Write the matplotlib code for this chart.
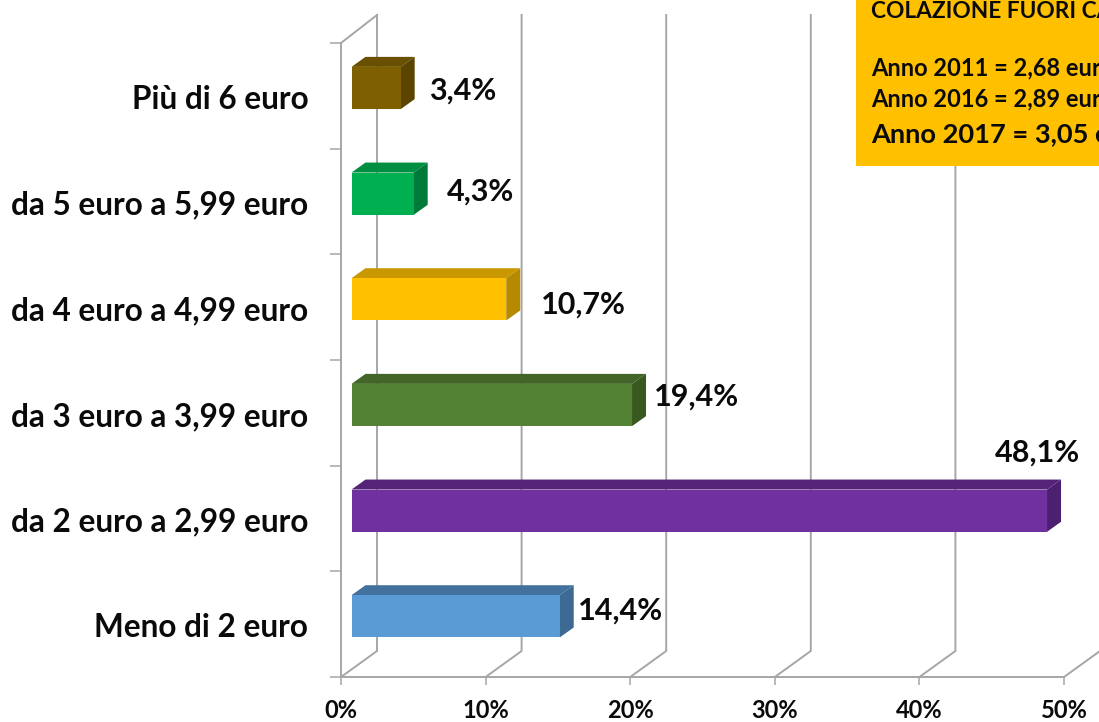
import matplotlib
matplotlib.use("Agg")
import matplotlib.pyplot as plt
from matplotlib.patches import Rectangle

categories = ["Meno di 2 euro", "da 2 euro a 2,99 euro", "da 3 euro a 3,99 euro",
              "da 4 euro a 4,99 euro", "da 5 euro a 5,99 euro", "Più di 6 euro"]
values = [14.4, 48.1, 19.4, 10.7, 4.3, 3.4]
value_labels = ["14,4%", "48,1%", "19,4%", "10,7%", "4,3%", "3,4%"]
x_ticks = [0, 10, 20, 30, 40, 50]
x_tick_labels = ["0%", "10%", "20%", "30%", "40%", "50%"]
box_lines = ["COLAZIONE FUORI CASA", "Anno 2011 = 2,68 euro", "Anno 2016 = 2,89 euro", "Anno 2017 = 3,05 euro"]

# styling
face = ["#5B9BD5", "#7030A0", "#548235", "#FFC000", "#00B050", "#7F6000"]
top = ["#41719C", "#552478", "#416628", "#C99700", "#008F40", "#695000"]
side = ["#3C6A92", "#4C2070", "#39581F", "#B58900", "#007A38", "#5A4400"]
label_off = [(61, 6), (-10, 58), (64, 8), (77, -5), (67, 2), (62, -3)]
box_y = [12, 68, 99, 134]
box_fs = [16.3, 17, 17, 19.6]

W, H = 1099, 722
L, R, T, B = 341, 1064, 43, 677
GRID = "#A6A6A6"
FONT = "Lato"
INK = "#0A0A0A"

fig = plt.figure(figsize=(W / 100, H / 100), dpi=100, facecolor="white")
ax = fig.add_axes([L / W, 1 - B / H, (R - L) / W, (B - T) / H])
ax.set_xlim(0, 50)
ax.set_ylim(0, 6)
ax.patch.set_visible(False)

px = (R - L) / 50
py = (B - T) / 6
DX, DY = 36 / px, 26 / py          # depth of the back wall
BX, BY = 14 / px, 10 / py          # depth of a bar
X0 = 10.5 / px                     # bar start on the front plane
Y0, BH = 0.374, 0.40               # bar position inside a category band
TOP = 6 + (T - 15) / py - DY       # wall height in front-plane terms

# walls and gridlines
for t in x_ticks:
    ax.plot([t, t + DX, t + DX], [0, DY, TOP + DY], color=GRID, lw=1.4, clip_on=False, zorder=1,
            solid_joinstyle="miter")
ax.plot([0, DX], [6, TOP + DY], color=GRID, lw=1.4, clip_on=False, zorder=1)

# axes furniture
for s in ("top", "right"):
    ax.spines[s].set_visible(False)
for s in ("left", "bottom"):
    ax.spines[s].set_color(GRID)
    ax.spines[s].set_linewidth(1.4)
ax.set_xticks(x_ticks)
ax.set_xticklabels(x_tick_labels, fontfamily=FONT, fontweight="bold", fontsize=17, color=INK)
ax.tick_params(axis="x", length=5.5, width=1.1, color=GRID, pad=10)
ax.set_yticks(range(7))
ax.set_yticklabels([])
ax.tick_params(axis="y", which="major", length=8, width=1.1, color=GRID)
ax.set_yticks([i + 0.49 for i in range(len(categories))], minor=True)
ax.set_yticklabels(categories, minor=True, fontfamily=FONT, fontweight="bold", fontsize=22.7, color=INK)
ax.tick_params(axis="y", which="minor", length=0, pad=23.5)

# 3D bars
for i, (v, c, ct, cs, lab, off) in enumerate(zip(values, face, top, side, value_labels, label_off)):
    x0, x1 = X0, X0 + v
    y0, y1 = i + Y0, i + Y0 + BH
    ax.fill([x0, x1, x1 + BX, x0 + BX], [y1, y1, y1 + BY, y1 + BY], color=ct, lw=0, clip_on=False, zorder=3)
    ax.fill([x1, x1 + BX, x1 + BX, x1], [y0, y0 + BY, y1 + BY, y1], color=cs, lw=0, clip_on=False, zorder=3)
    ax.fill([x0, x1, x1, x0], [y0, y0, y1, y1], color=c, lw=0, clip_on=False, zorder=4)
    ax.annotate(lab, xy=(x1, (y0 + y1) / 2), xytext=off, textcoords="offset pixels", ha="center", va="center",
                fontfamily=FONT, fontweight="bold", fontsize=22, color=INK, zorder=5)

# orange note, running off the picture as in the reference
fig.add_artist(Rectangle((856 / W, 1 - 166 / H), (W - 856) / W, 166 / H, transform=fig.transFigure,
                         facecolor="#FFC000", edgecolor="none", zorder=5))
for line, y, fs in zip(box_lines, box_y, box_fs):
    fig.text(871 / W, 1 - y / H, line, ha="left", va="center", fontfamily=FONT, fontweight="bold",
             fontsize=fs, color=INK, zorder=6)

fig.savefig("out.png", dpi=100)
